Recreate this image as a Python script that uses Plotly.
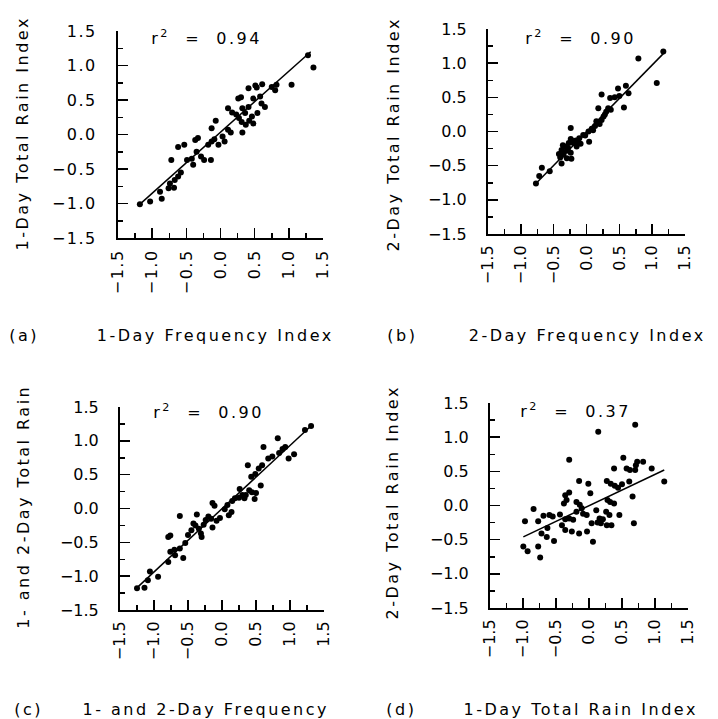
import plotly.graph_objects as go

# ---------------- data ----------------
a_x = [-1.18,-1.03,-0.86,-0.885,-0.76,-0.74,-0.67,-0.62,-0.58,-0.68,-0.72,-0.62,-0.53,-0.49,-0.42,-0.40,-0.35,-0.285,-0.24,-0.14,
       -0.37,-0.33,-0.18,-0.13,-0.09,-0.03,0.06,0.03,-0.13,-0.07,0.11,0.15,0.11,0.17,0.23,0.27,0.31,0.32,0.37,0.42,
       0.48,0.36,0.32,0.41,0.48,0.26,0.30,0.46,0.54,0.65,0.60,0.41,0.51,0.61,0.53,0.75,0.80,0.82,1.04,1.28,1.36,0.58]
a_y = [-1.01,-0.97,-0.93,-0.83,-0.78,-0.71,-0.66,-0.61,-0.55,-0.77,-0.37,-0.18,-0.15,-0.37,-0.35,-0.44,-0.25,-0.32,-0.37,-0.37,
       -0.08,-0.05,-0.15,-0.10,-0.07,-0.15,-0.10,-0.03,0.09,0.20,0.07,0.03,0.38,0.32,0.29,0.24,0.18,0.03,0.14,0.20,
       0.16,0.31,0.38,0.40,0.52,0.52,0.54,0.26,0.31,0.40,0.45,0.67,0.71,0.73,0.68,0.69,0.64,0.72,0.72,1.15,0.97,0.55]

b_x = [-0.77,-0.68,-0.56,-0.72,-0.38,-0.35,-0.38,-0.33,-0.28,-0.24,-0.30,-0.23,-0.20,-0.16,-0.11,-0.09,-0.05,-0.24,-0.15,-0.24,
       0.04,0.03,0.08,0.13,0.15,0.20,0.23,0.18,0.26,0.30,0.33,0.37,0.23,0.36,0.43,0.48,0.60,0.57,0.64,0.79,
       1.07,1.17,0.50,-0.42,-0.30,-0.19,-0.02,-0.36,-0.27,-0.12,0.10,0.28,-0.40]
b_y = [-0.76,-0.53,-0.58,-0.65,-0.47,-0.34,-0.27,-0.22,-0.24,-0.31,-0.39,-0.40,-0.17,-0.13,-0.10,-0.18,-0.05,-0.11,-0.22,0.05,
       -0.15,0.00,0.04,0.08,0.15,0.11,0.17,0.34,0.22,0.29,0.34,0.32,0.54,0.49,0.50,0.63,0.67,0.35,0.56,1.07,
       0.71,1.17,0.52,-0.33,-0.28,-0.14,-0.06,-0.20,-0.17,-0.16,0.02,0.25,-0.38]

c_x = [-1.25,-1.14,-1.09,-1.06,-0.94,-0.79,-0.76,-0.70,-0.69,-0.57,-0.62,-0.54,-0.79,-0.76,-0.62,-0.50,-0.45,-0.42,-0.39,-0.34,
       -0.31,-0.30,-0.27,-0.37,-0.24,-0.20,-0.16,-0.14,-0.14,-0.11,-0.08,-0.03,0.04,0.08,0.10,0.14,0.15,0.19,0.25,0.26,
       0.30,0.33,0.35,0.40,0.44,0.48,0.50,0.38,0.43,0.49,0.54,0.59,0.57,0.61,0.68,0.74,0.82,0.84,0.89,0.93,
       0.98,1.06,1.22,1.31]
c_y = [-1.18,-1.17,-1.06,-0.93,-1.01,-0.79,-0.64,-0.61,-0.69,-0.73,-0.59,-0.51,-0.42,-0.40,-0.11,-0.39,-0.32,-0.22,-0.25,-0.30,
       -0.37,-0.42,-0.24,-0.09,-0.17,-0.12,-0.15,-0.28,0.08,0.04,-0.18,-0.14,-0.01,0.05,-0.10,-0.05,0.11,0.15,0.16,0.29,
       0.20,0.15,0.20,0.27,0.24,0.14,0.23,0.64,0.47,0.51,0.59,0.64,0.34,0.91,0.74,0.77,1.04,0.82,0.88,0.91,
       0.74,0.80,1.16,1.22]

d_x = [-0.97,-0.995,-0.93,-0.77,-0.74,-0.84,-0.77,-0.69,-0.60,-0.55,-0.72,-0.63,-0.64,-0.53,-0.44,-0.41,-0.36,-0.30,-0.24,-0.36,
       -0.26,-0.15,-0.03,-0.38,-0.34,-0.30,-0.36,-0.30,-0.15,-0.01,0.02,-0.19,-0.14,-0.11,-0.19,-0.09,-0.035,0.04,0.11,0.16,
       0.18,0.13,0.21,0.26,0.28,0.32,0.31,0.34,0.27,0.38,0.46,0.06,0.14,0.27,0.33,0.39,0.44,0.50,0.61,0.38,
       0.52,0.57,0.62,0.70,0.71,0.73,0.82,0.95,0.66,0.68,0.70,1.14]
d_y = [-0.23,-0.60,-0.67,-0.60,-0.76,-0.05,-0.23,-0.15,-0.14,-0.16,-0.41,-0.33,-0.46,-0.52,-0.13,-0.29,-0.20,-0.19,-0.21,-0.36,
       -0.38,-0.41,-0.38,0.03,0.08,0.19,0.15,0.67,0.36,0.32,0.18,0.05,0.01,-0.04,-0.09,-0.12,-0.14,-0.26,-0.07,-0.19,
       -0.26,-0.25,-0.20,-0.09,0.08,0.05,-0.14,-0.29,-0.29,0.03,-0.14,-0.53,1.08,0.36,0.32,0.29,0.26,0.31,0.35,0.54,
       0.70,0.54,0.52,0.52,0.59,0.64,0.64,0.54,0.13,-0.26,1.18,0.35]

# regression line end points
fit_a_x = [-1.19, 1.32]; fit_a_y = [-1.02, 1.20]
fit_b_x = [-0.77, 1.17]; fit_b_y = [-0.76, 1.14]
fit_c_x = [-1.26, 1.32]; fit_c_y = [-1.18, 1.23]
fit_d_x = [-0.995, 1.14]; fit_d_y = [-0.46, 0.52]

r2_values = ["0.94", "0.90", "0.90", "0.37"]
panel_letters = ["(a)", "(b)", "(c)", "(d)"]
x_titles = ["1-Day Frequency Index", "2-Day Frequency Index",
            "1- and 2-Day Frequency", "1-Day Total Rain Index"]
y_titles = ["1-Day Total Rain Index", "2-Day Total Rain Index",
            "1- and 2-Day Total Rain", "2-Day Total Rain Index"]
tick_values = [-1.5, -1.0, -0.5, 0.0, 0.5, 1.0, 1.5]
tick_labels = ["\u22121.5", "\u22121.0", "\u22120.5", "0.0", "0.5", "1.0", "1.5"]

# ---------------- layout geometry ----------------
W, H = 718, 719
FONT = "DejaVu Sans"
px = lambda v: v / W
py = lambda v: 1 - v / H

# plot boxes in pixels (left, right, top, bottom)
boxes = [(118, 323, 31, 238), (488, 685, 29, 234),
         (120, 324, 407, 610), (490, 688, 403, 608)]

panels = [(a_x, a_y, fit_a_x, fit_a_y), (b_x, b_y, fit_b_x, fit_b_y),
          (c_x, c_y, fit_c_x, fit_c_y), (d_x, d_y, fit_d_x, fit_d_y)]

fig = go.Figure()
layout = dict(width=W, height=H, autosize=False,
              margin=dict(l=0, r=0, t=0, b=0, pad=0),
              paper_bgcolor="white", plot_bgcolor="white",
              showlegend=False, font=dict(family=FONT, size=16, color="black"))

def axis_common():
    return dict(range=[-1.5, 1.5], tickmode="array", tickvals=tick_values, ticktext=tick_labels,
                ticks="inside", ticklen=10, tickwidth=1.5, tickcolor="black",
                showline=True, linewidth=2, linecolor="black", automargin=False,
                showgrid=False, zeroline=False, fixedrange=True,
                minor=dict(ticks="inside", ticklen=5, tickwidth=1.5, tickcolor="black",
                           tickmode="linear", tick0=-1.5, dtick=0.25, showgrid=False),
                tickfont=dict(family=FONT, size=16, color="black"))

for i, ((xs, ys, fx, fy), (l, r, t, b)) in enumerate(zip(panels, boxes)):
    n = "" if i == 0 else str(i + 1)
    xa = axis_common(); ya = axis_common()
    xa.update(domain=[px(l), px(r)], anchor="y" + n, tickangle=-90, ticklabelstandoff=3)
    ya.update(domain=[py(b), py(t)], anchor="x" + n, ticklabelstandoff=16)
    layout["xaxis" + n] = xa
    layout["yaxis" + n] = ya
    fig.add_trace(go.Scatter(x=fx, y=fy, mode="lines", line=dict(color="black", width=1.5),
                             xaxis="x" + n, yaxis="y" + n, hoverinfo="skip"))
    fig.add_trace(go.Scatter(x=xs, y=ys, mode="markers", cliponaxis=False,
                             marker=dict(color="black", size=6, line=dict(width=0)),
                             xaxis="x" + n, yaxis="y" + n))

# ---------------- annotations ----------------
ann = []
def text(t, x, y, angle=0, xanchor="center"):
    ann.append(dict(text=t, x=px(x), y=py(y), xref="paper", yref="paper",
                    xanchor=xanchor, yanchor="middle", textangle=angle, showarrow=False,
                    font=dict(family=FONT, size=16, color="black")))

ytitle_pos = [(22, 134), (393, 134), (23, 507), (393, 502)]
letter_pos = [(24, 335), (402, 335), (28, 709), (401, 709)]
xtitle_pos = [(215, 335), (587, 335), (206, 709), (580, 709)]
r2_pos = [(206, 38), (580, 38), (208, 411), (575, 410)]

for i in range(4):
    text(y_titles[i], *ytitle_pos[i], angle=-90)
    text(panel_letters[i], *letter_pos[i])
    text(x_titles[i], *xtitle_pos[i])
    text("r<sup>2</sup>\u00a0\u00a0=\u00a0\u00a0" + r2_values[i], *r2_pos[i])

layout["annotations"] = ann
fig.update_layout(**layout)

post = ("document.body.style.margin='0';document.body.style.padding='0';"
        "document.documentElement.style.margin='0';"
        "var s=document.createElement('style');"
        "s.innerHTML='body{margin:0!important}.annotation-text{letter-spacing:2.5px}.xtick text,.ytick text{letter-spacing:1.5px}';"
        "document.head.appendChild(s);")
fig.write_html("out.html", post_script=post, config={"staticPlot": True})
